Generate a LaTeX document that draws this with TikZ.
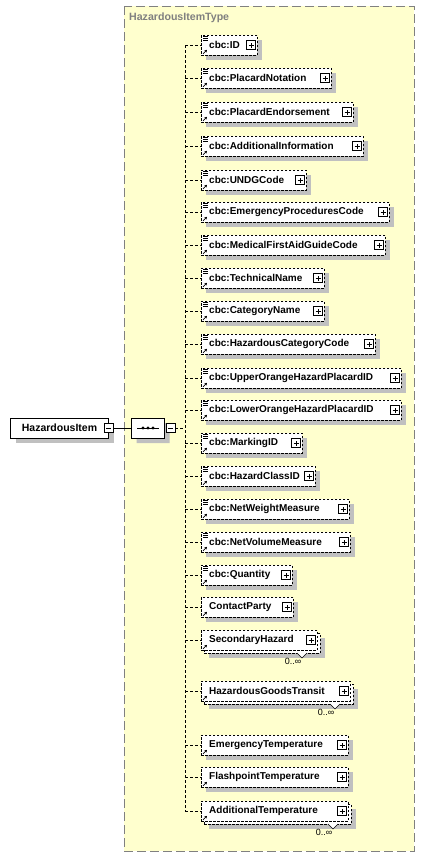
\documentclass[tikz,border=0pt]{standalone}
\usepackage{fontspec}
\setmainfont{Liberation Sans}
\usetikzlibrary{positioning, calc, arrows.meta, shapes.misc, shadows}

\definecolor{paneyellow}{RGB}{255,255,206}
\definecolor{panegray}{RGB}{128,128,128}
\definecolor{shadowgray}{RGB}{192,192,192}

\tikzset{
  gray shadow/.style={general shadow={fill=shadowgray, shadow xshift=5pt, shadow yshift=-5pt}},
  elemplain/.style={draw, fill=white, line width=0.7pt, dash pattern=on 2.5pt off 1.5pt,
    minimum height=20pt, inner sep=0pt, anchor=west},
  elembox/.style={elemplain, gray shadow},
  elemtext/.style={font=\fontsize{10}{12}\selectfont\bfseries, anchor=west, inner sep=0pt},
  togglebox/.style={draw, fill=white, line width=0.6pt, minimum size=9pt, inner sep=0pt},
  minusbox/.style={togglebox, path picture={
    \draw[line width=0.6pt] ([xshift=2pt]path picture bounding box.west) -- ([xshift=-2pt]path picture bounding box.east);}},
  plusbox/.style={togglebox, path picture={
    \draw[line width=0.6pt] ([xshift=2pt]path picture bounding box.west) -- ([xshift=-2pt]path picture bounding box.east)
      ([yshift=2pt]path picture bounding box.south) -- ([yshift=-2pt]path picture bounding box.north);}},
  conn/.style={line width=0.7pt, dash pattern=on 3pt off 2pt},
}

\begin{document}
\begin{tikzpicture}[x=1pt, y=-1pt]
    \useasboundingbox (0,0) rectangle (424,857);

    % complex type frame
    \draw[fill=paneyellow, draw=panegray, line width=1pt, dash pattern=on 9pt off 4pt] (124,6) rectangle (414,851);
    \node[elemtext, font=\fontsize{10.6}{12}\selectfont\bfseries, text=panegray] (typename) at (129,18) {HazardousItemType};

    % root element
    \node[draw, fill=white, line width=0.7pt, minimum width=98pt, minimum height=20pt, inner sep=0pt,
      font=\fontsize{10.5}{12}\selectfont\bfseries, gray shadow] (root) at (59.5,428) {HazardousItem};
    \node[minusbox] (rootminus) at (108.5,428) {};

    % sequence compositor
    \node[draw, fill=white, line width=0.7pt, chamfered rectangle, chamfered rectangle xsep=5pt,
      minimum width=33pt, minimum height=20pt, inner sep=0pt, gray shadow] (seq) at (148,428) {};
    \draw[line width=1pt] ([xshift=6pt]seq.west) -- ([xshift=-6pt]seq.east);
    \foreach \dx in {-5,0,5} \fill ([xshift=\dx pt]seq.center) circle (1.6pt);
    \node[minusbox] (seqminus) at (170.5,428) {};
    \draw[line width=0.7pt] (rootminus.east) -- (seq.west);

    % spine of the sequence
    \coordinate (spinetop) at (185,45);
    \coordinate (spinebot) at (185,811);
    \draw[conn] (spinetop) -- (spinebot);
    \draw[conn] (seqminus.east) -- (seqminus.east -| spinetop);

    % child elements: label / right edge / row / cbc icon / 0..oo
    \foreach \lab/\r/\y/\cbc/\multi [count=\i] in {
        cbc:ID/257/45/1/0, cbc:PlacardNotation/331/78/1/0, cbc:PlacardEndorsement/353/112/1/0,
        cbc:AdditionalInformation/363/146/1/0, cbc:UNDGCode/306/180/1/0,
        cbc:EmergencyProceduresCode/389/212/1/0, cbc:MedicalFirstAidGuideCode/385/245/1/0,
        cbc:TechnicalName/324/278/1/0, cbc:CategoryName/324/311/1/0,
        cbc:HazardousCategoryCode/375/344/1/0, cbc:UpperOrangeHazardPlacardID/401/378/1/0,
        cbc:LowerOrangeHazardPlacardID/401/410/1/0, cbc:MarkingID/302/443/1/0,
        cbc:HazardClassID/315/476/1/0, cbc:NetWeightMeasure/349/509/1/0,
        cbc:NetVolumeMeasure/350/542/1/0, cbc:Quantity/292/575/1/0, ContactParty/293/607/0/0,
        SecondaryHazard/317/640/0/1, HazardousGoodsTransit/350/691/0/1,
        EmergencyTemperature/348/745/0/0, FlashpointTemperature/348/777/0/0,
        AdditionalTemperature/348/811/0/1} {
      \ifnum\multi=1
        \node[elembox, minimum width={(\r-201)*1pt}] (back\i) at (204,\y+3) {};
        \draw[fill=white, line width=0.5pt] (\r-20,\y+13) -- (\r-15,\y+18) -- (\r-10,\y+13);
        \node[font=\fontsize{9}{10}\selectfont, anchor=north, inner sep=0pt] (mult\i) at (\r-24,\y+18) {0..∞};
        \node[elemplain, minimum width={(\r-201)*1pt}] (e\i) at (201,\y) {};
      \else
        \node[elembox, minimum width={(\r-201)*1pt}] (e\i) at (201,\y) {};
      \fi
      \node[elemtext] (t\i) at ([xshift=8pt]e\i.west) {\lab};
      \node[plusbox] (p\i) at ([xshift=-6.5pt]e\i.east) {};
      \ifnum\cbc=1
        \foreach \dy in {2,4,6}
          \draw[line width=0.6pt] ([shift={(2pt,-\dy pt)}]e\i.north west) -- ++(5pt,0pt);
      \fi
      \draw[-{Stealth[length=2.5pt, width=2.8pt]}, line width=0.7pt]
        ([shift={(2pt,1.5pt)}]e\i.south west) -- ++(4pt,4pt);
      \draw[conn] (e\i.west -| spinetop) -- (e\i.west);
    }

\end{tikzpicture}
\end{document}
